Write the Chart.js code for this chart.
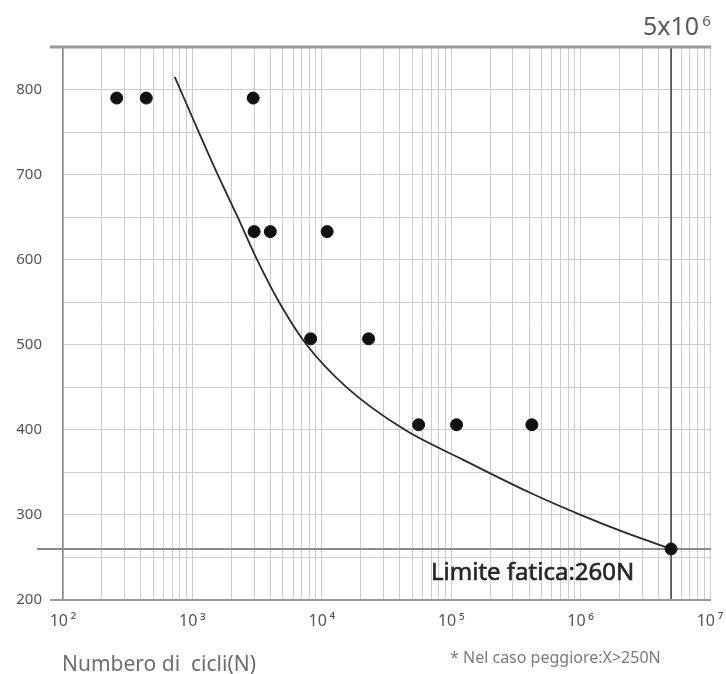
<!DOCTYPE html>
<html>
<head>
<meta charset="utf-8">
<script src="https://cdn.jsdelivr.net/npm/chart.js@4/dist/chart.umd.min.js"></script>
<style>
  html, body { margin: 0; padding: 0; background: #ffffff; }
  #wrap { width: 726px; height: 674px; position: relative; }
</style>
</head>
<body>
<div id="wrap"><canvas id="c" width="726" height="674"></canvas></div>
<script>
// ---- data ----
const testCycles = [260, 440, 2950, 3000, 4000, 11000, 8200, 23000, 56000, 110000, 420000, 5000000];
const testLoads  = [790, 790, 790, 633, 633, 633, 507, 507, 406, 406, 406, 260];

const curveCycles = [730, 1120, 1570, 2240, 3160, 4680, 7630, 15560, 43850, 123000, 407000, 1000000, 2140000, 5000000];
const curveLoads  = [815, 750, 700, 650, 600, 550, 500, 450, 400, 365, 326, 300, 280, 260];

const decades = [2, 3, 4, 5, 6, 7];
const xTickValues = [];
decades.forEach((e, i) => {
  const mult = (i === decades.length - 1) ? [1] : [1, 2, 3, 4, 5, 6, 7, 8, 9];
  mult.forEach(m => xTickValues.push(m * Math.pow(10, e)));
});
const supDigits = {2: '\u00B2', 3: '\u00B3', 4: '\u2074', 5: '\u2075', 6: '\u2076', 7: '\u2077'};
const yTickLabels = [200, 300, 400, 500, 600, 700, 800];

const limitLoad = 260;
const limitCycles = 5000000;
const limitText = 'Limite fatica:260N';
const limitCyclesText = '5x10';
const limitCyclesExp = '6';
const xTitle = 'Numbero di  cicli(N)';
const noteText = '* Nel caso peggiore:X>250N';

const FONT = "'Noto Sans', 'Open Sans', sans-serif";

const decor = {
  id: 'decor',
  beforeDatasetsDraw(chart) {
    const ctx = chart.ctx;
    const a = chart.chartArea;
    const xs = chart.scales.x, ys = chart.scales.y;
    ctx.save();
    // limit horizontal line
    const yl = ys.getPixelForValue(limitLoad);
    ctx.strokeStyle = '#8c8c8c';
    ctx.lineWidth = 2;
    ctx.beginPath(); ctx.moveTo(37, yl); ctx.lineTo(a.right + 1, yl); ctx.stroke();
    // vertical 5e6 line
    const xl = xs.getPixelForValue(limitCycles);
    ctx.strokeStyle = '#3a3a3a';
    ctx.lineWidth = 1.5;
    ctx.beginPath(); ctx.moveTo(xl, a.top); ctx.lineTo(xl, a.bottom); ctx.stroke();
    // top border
    ctx.strokeStyle = '#9a9a9a';
    ctx.lineWidth = 3;
    ctx.beginPath(); ctx.moveTo(50, a.top); ctx.lineTo(a.right + 1, a.top); ctx.stroke();
    // bottom axis line
    ctx.lineWidth = 2;
    ctx.beginPath(); ctx.moveTo(50, a.bottom); ctx.lineTo(a.right + 1, a.bottom); ctx.stroke();
    // limit text
    ctx.fillStyle = '#262626';
    ctx.strokeStyle = '#262626';
    ctx.lineWidth = 0.6;
    ctx.font = "24px " + FONT;
    ctx.textBaseline = 'alphabetic';
    ctx.textAlign = 'left';
    ctx.fillText(limitText, 431, 580);
    ctx.strokeText(limitText, 431, 580);
    // 5x10^6
    ctx.fillStyle = '#5a5a5a';
    ctx.font = "25px " + FONT;
    ctx.fillText(limitCyclesText, 643, 35);
    const w = ctx.measureText(limitCyclesText).width;
    ctx.font = "15px " + FONT;
    ctx.fillText(limitCyclesExp, 643 + w + 3, 26);
    // x title
    ctx.fillStyle = '#6e6e6e';
    ctx.font = "21px " + FONT;
    ctx.fillText(xTitle, 62, 671);
    // note
    ctx.fillStyle = '#7a7a7a';
    ctx.font = "16px " + FONT;
    ctx.fillText(noteText, 450, 663);
    ctx.restore();
  }
};

new Chart(document.getElementById('c'), {
  data: {
    datasets: [
      {
        type: 'scatter',
        data: testCycles.map((c, i) => ({x: c, y: testLoads[i]})),
        backgroundColor: '#111',
        borderColor: '#111',
        pointRadius: 6,
        pointHoverRadius: 6,
        order: 1
      },
      {
        type: 'line',
        data: curveCycles.map((c, i) => ({x: c, y: curveLoads[i]})),
        borderColor: '#2a2a2a',
        borderWidth: 1.8,
        pointRadius: 0,
        fill: false,
        cubicInterpolationMode: 'monotone',
        order: 2
      }
    ]
  },
  plugins: [decor],
  options: {
    responsive: false,
    animation: false,
    devicePixelRatio: 1,
    layout: { padding: { top: 47, right: 16, left: 0, bottom: 0 } },
    plugins: { legend: { display: false }, tooltip: { enabled: false } },
    scales: {
      x: {
        type: 'logarithmic',
        min: 100,
        max: 10000000,
        afterBuildTicks: s => { s.ticks = xTickValues.map(v => ({value: v})); },
        afterFit: s => { s.height = 74; s.paddingLeft = 0; s.paddingRight = 0; },
        grid: { color: '#cdcdcd', lineWidth: 1, drawTicks: false },
        border: { display: false },
        ticks: {
          autoSkip: false,
          maxRotation: 0,
          padding: 12,
          color: '#555',
          font: { family: FONT, size: 16 },
          callback: v => {
            const e = Math.round(Math.log10(v));
            return (Math.abs(Math.pow(10, e) - v) < 1e-6) ? '10\u2009' + supDigits[e] : '';
          }
        }
      },
      y: {
        type: 'linear',
        min: 200,
        max: 850,
        afterFit: s => { s.width = 63; s.paddingTop = 0; s.paddingBottom = 0; },
        grid: { color: '#cdcdcd', lineWidth: 1, drawTicks: false },
        border: { display: true, color: '#8a8a8a', width: 1.5 },
        ticks: {
          stepSize: 50,
          padding: 21,
          color: '#555',
          font: { family: FONT, size: 15 },
          callback: v => yTickLabels.includes(v) ? String(v) : ''
        }
      }
    }
  }
});
</script>
</body>
</html>
